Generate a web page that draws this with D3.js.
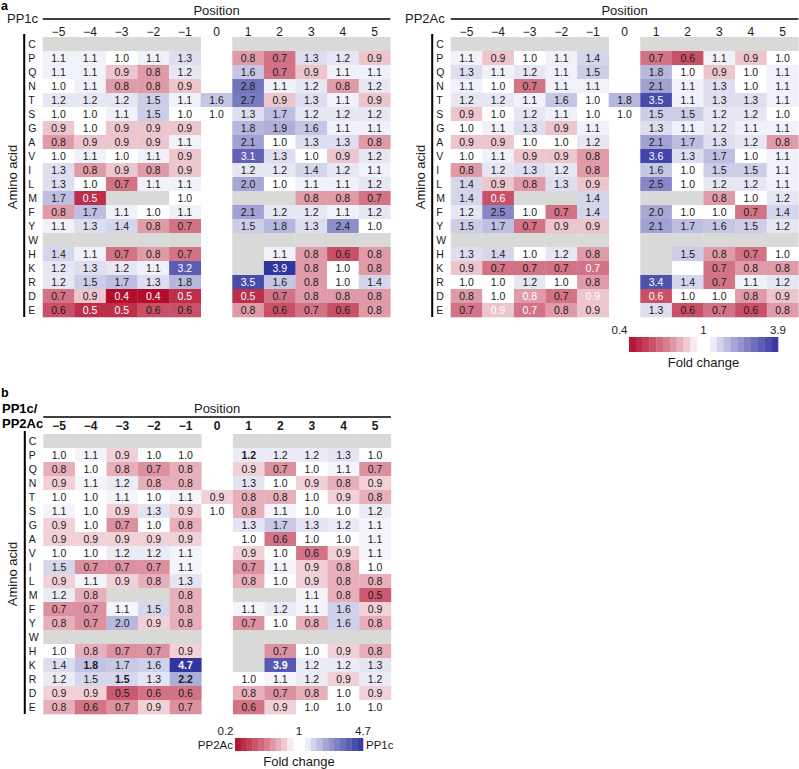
<!DOCTYPE html>
<html>
<head>
<meta charset="utf-8">
<script src="https://cdn.jsdelivr.net/npm/d3@7"></script>
<style>
  html, body { margin: 0; padding: 0; background: #fff; }
  svg { display: block; font-family: "Liberation Sans", Arial, Helvetica, sans-serif; }
</style>
</head>
<body>
<svg id="chart" width="799" height="769"></svg>
<script>
// ---------------- data ----------------
const aminoAcids = ["C","P","Q","N","T","S","G","A","V","I","L","M","F","Y","W","H","K","R","D","E"];
const positions = ["−5","−4","−3","−2","−1","0","1","2","3","4","5"];
const n = null;

// PP1c fold change (rows = aminoAcids, cols = positions); null = no data
const pp1cValues = [
  [n,n,n,n,n, n, n,n,n,n,n],
  [1.1,1.1,1.0,1.1,1.3, n, 0.8,0.7,1.3,1.2,0.9],
  [1.1,1.1,0.9,0.8,1.2, n, 1.6,0.7,0.9,1.1,1.1],
  [1.0,1.1,0.8,0.8,0.9, n, 2.8,1.1,1.2,0.8,1.2],
  [1.2,1.2,1.2,1.5,1.1, 1.6, 2.7,0.9,1.3,1.1,0.9],
  [1.0,1.0,1.1,1.5,1.0, 1.0, 1.3,1.7,1.2,1.2,1.2],
  [0.9,1.0,0.9,0.9,0.9, n, 1.8,1.9,1.6,1.1,1.1],
  [0.8,0.9,0.9,0.9,1.1, n, 2.1,1.0,1.3,1.3,0.8],
  [1.0,1.1,1.0,1.1,0.9, n, 3.1,1.3,1.0,0.9,1.2],
  [1.3,0.8,0.9,0.8,0.9, n, 1.2,1.2,1.4,1.2,1.1],
  [1.3,1.0,0.7,1.1,1.1, n, 2.0,1.0,1.1,1.1,1.2],
  [1.7,0.5,n,n,1.0, n, n,n,0.8,0.8,0.7],
  [0.8,1.7,1.1,1.0,1.1, n, 2.1,1.2,1.2,1.1,1.2],
  [1.1,1.3,1.4,0.8,0.7, n, 1.5,1.8,1.3,2.4,1.0],
  [n,n,n,n,n, n, n,n,n,n,n],
  [1.4,1.1,0.7,0.8,0.7, n, n,1.1,0.8,0.6,0.8],
  [1.2,1.3,1.2,1.1,3.2, n, n,3.9,0.8,1.0,0.8],
  [1.2,1.5,1.7,1.3,1.8, n, 3.5,1.6,0.8,1.0,1.4],
  [0.7,0.9,0.4,0.4,0.5, n, 0.5,0.7,0.8,0.8,0.8],
  [0.6,0.5,0.5,0.6,0.6, n, 0.8,0.6,0.7,0.6,0.8]
];

// PP2Ac fold change
const pp2acValues = [
  [n,n,n,n,n, n, n,n,n,n,n],
  [1.1,0.9,1.0,1.1,1.4, n, 0.7,0.6,1.1,0.9,1.0],
  [1.3,1.1,1.2,1.1,1.5, n, 1.8,1.0,0.9,1.0,1.1],
  [1.1,1.0,0.7,1.1,1.1, n, 2.1,1.1,1.3,1.0,1.1],
  [1.2,1.2,1.1,1.6,1.0, 1.8, 3.5,1.1,1.3,1.3,1.1],
  [0.9,1.0,1.2,1.1,1.0, 1.0, 1.5,1.5,1.2,1.2,1.0],
  [1.0,1.1,1.3,0.9,1.1, n, 1.3,1.1,1.2,1.1,1.1],
  [0.9,0.9,1.0,1.0,1.2, n, 2.1,1.7,1.3,1.2,0.8],
  [1.0,1.1,0.9,0.9,0.8, n, 3.6,1.3,1.7,1.0,1.1],
  [0.8,1.2,1.3,1.2,0.8, n, 1.6,1.0,1.5,1.5,1.1],
  [1.4,0.9,0.8,1.3,0.9, n, 2.5,1.0,1.2,1.2,1.1],
  [1.4,0.6,n,n,1.4, n, n,n,0.8,1.0,1.2],
  [1.2,2.5,1.0,0.7,1.4, n, 2.0,1.0,1.0,0.7,1.4],
  [1.5,1.7,0.7,0.9,0.9, n, 2.1,1.7,1.6,1.5,1.2],
  [n,n,n,n,n, n, n,n,n,n,n],
  [1.3,1.4,1.0,1.2,0.8, n, n,1.5,0.8,0.7,1.0],
  [0.9,0.7,0.7,0.7,0.7, n, n,1.0,0.7,0.8,0.8],
  [1.0,1.0,1.2,1.0,0.8, n, 3.4,1.4,0.7,1.1,1.2],
  [0.8,1.0,0.8,0.7,0.9, n, 0.6,1.0,1.0,0.8,0.9],
  [0.7,0.9,0.7,0.8,0.9, n, 1.3,0.6,0.7,0.6,0.8]
];

// PP1c / PP2Ac ratio
const ratioValues = [
  [n,n,n,n,n, n, n,n,n,n,n],
  [1.0,1.1,0.9,1.0,1.0, n, 1.2,1.2,1.2,1.3,1.0],
  [0.8,1.0,0.8,0.7,0.8, n, 0.9,0.7,1.0,1.1,0.7],
  [0.9,1.1,1.2,0.8,0.8, n, 1.3,1.0,0.9,0.8,0.9],
  [1.0,1.0,1.1,1.0,1.1, 0.9, 0.8,0.8,1.0,0.9,0.8],
  [1.1,1.0,0.9,1.3,0.9, 1.0, 0.8,1.1,1.0,1.0,1.2],
  [0.9,1.0,0.7,1.0,0.8, n, 1.3,1.7,1.3,1.2,1.1],
  [0.9,0.9,0.9,0.9,0.9, n, 1.0,0.6,1.0,1.0,1.1],
  [1.0,1.0,1.2,1.2,1.1, n, 0.9,1.0,0.6,0.9,1.1],
  [1.5,0.7,0.7,0.7,1.1, n, 0.7,1.1,0.9,0.8,1.0],
  [0.9,1.1,0.9,0.8,1.3, n, 0.8,1.0,0.9,0.8,0.8],
  [1.2,0.8,n,n,0.8, n, n,n,1.1,0.8,0.5],
  [0.7,0.7,1.1,1.5,0.8, n, 1.1,1.2,1.1,1.6,0.9],
  [0.8,0.7,2.0,0.9,0.8, n, 0.7,1.0,0.8,1.6,0.8],
  [n,n,n,n,n, n, n,n,n,n,n],
  [1.0,0.8,0.7,0.7,0.9, n, n,0.7,1.0,0.9,0.8],
  [1.4,1.8,1.7,1.6,4.7, n, n,3.9,1.2,1.2,1.3],
  [1.2,1.5,1.5,1.3,2.2, n, 1.0,1.1,1.2,0.9,1.2],
  [0.9,0.9,0.5,0.6,0.6, n, 0.8,0.7,0.8,1.0,0.9],
  [0.8,0.6,0.7,0.9,0.7, n, 0.6,0.9,1.0,1.0,1.0]
];

const legendATicks = ["0.4","1","3.9"];
const legendBTicks = ["0.2","1","4.7"];
const domainA = [0.4, 1, 3.9];
const domainB = [0.2, 1, 4.7];

// label styling lists ("row:position")
const pp1cWhiteLabels = ["M:−4","D:−3","D:−2","D:−1","E:−4","E:−3","V:1","K:−1","R:1","D:1","K:2"];
const pp2acWhiteLabels = ["M:−4","T:1","V:1","R:1","D:1","K:−1","D:−3","D:−1","E:−4","E:−3","K:2"];
const ratioWhiteLabels = ["K:−1","K:2"];
const ratioBoldLabels = ["P:1","K:−4","K:−1","K:2","R:−3","R:−1"];

// ---------------- drawing ----------------
const svg = d3.select("#chart");
const RED = "#b30d2d", BLUE = "#3234a0", GRAY = "#d9d9d7";
const CW = 31.6, CH = 14;
const GAMMA = 0.8;

function colorScale(dom) {
  const tRed = d3.scaleLinear().domain([1, dom[0]]).range([0, 1]).clamp(true);
  const tBlue = d3.scaleLinear().domain([1, dom[2]]).range([0, 1]).clamp(true);
  const iRed = d3.interpolateRgb("#ffffff", RED);
  const iBlue = d3.interpolateRgb("#ffffff", BLUE);
  return v => v < 1 ? iRed(Math.pow(tRed(v), GAMMA)) : iBlue(Math.pow(tBlue(v), GAMMA));
}

function heatmap(opt) {
  const g = svg.append("g");
  const x = d3.scaleBand().domain(positions).range([opt.x0, opt.x0 + CW * positions.length]);
  const y = d3.scaleBand().domain(aminoAcids).range([opt.y0, opt.y0 + CH * aminoAcids.length]);
  const color = colorScale(opt.domain);
  const cells = [];
  opt.values.forEach((row, ri) => row.forEach((v, ci) => {
    cells.push({ aa: aminoAcids[ri], pos: positions[ci], v });
  }));
  const white = new Set(opt.white || []);
  const bold = new Set(opt.bold || []);

  // cells (position 0 column has no grey background)
  g.selectAll("rect.cell").data(cells.filter(d => d.v !== null || d.pos !== "0"))
    .join("rect")
    .attr("x", d => x(d.pos)).attr("y", d => y(d.aa))
    .attr("width", x.bandwidth() + 0.3).attr("height", y.bandwidth() + 0.3)
    .attr("fill", d => d.v === null ? GRAY : color(d.v));

  g.selectAll("text.val").data(cells.filter(d => d.v !== null))
    .join("text")
    .attr("x", d => x(d.pos) + x.bandwidth() / 2)
    .attr("y", d => y(d.aa) + y.bandwidth() / 2 + 3.6)
    .attr("text-anchor", "middle")
    .attr("font-size", 10.5)
    .attr("font-weight", d => bold.has(d.aa + ":" + d.pos) ? "bold" : "normal")
    .attr("fill", d => white.has(d.aa + ":" + d.pos) ? "#ffffff" : "#1a1a1a")
    .text(d => d3.format(".1f")(d.v));

  // row labels
  g.selectAll("text.row").data(aminoAcids).join("text")
    .attr("x", opt.x0 - 14.5).attr("y", d => y(d) + y.bandwidth() / 2 + 3.8)
    .attr("font-size", 10.5).attr("fill", "#1a1a1a").text(d => d);

  // vertical axis line
  g.append("line")
    .attr("x1", opt.x0 - 18.5).attr("x2", opt.x0 - 18.5)
    .attr("y1", opt.y0 - 3).attr("y2", opt.y0 + CH * aminoAcids.length)
    .attr("stroke", "#000").attr("stroke-width", 2);

  // Amino acid label
  const cy = opt.y0 + CH * aminoAcids.length / 2;
  g.append("text").attr("transform", `translate(${opt.x0 - 26},${cy}) rotate(-90)`)
    .attr("text-anchor", "middle").attr("font-size", 13).attr("fill", "#1a1a1a")
    .text("Amino acid");

  // header
  g.append("line")
    .attr("x1", opt.x0).attr("x2", opt.x0 + CW * positions.length)
    .attr("y1", opt.lineY).attr("y2", opt.lineY)
    .attr("stroke", "#000").attr("stroke-width", 1.6);
  g.append("text").attr("x", x("0") + x.bandwidth() / 2).attr("y", opt.lineY - 4.5)
    .attr("text-anchor", "middle").attr("font-size", 13).attr("fill", "#1a1a1a").text("Position");
  g.selectAll("text.tick").data(positions).join("text")
    .attr("x", d => x(d) + x.bandwidth() / 2).attr("y", opt.tickY)
    .attr("text-anchor", "middle").attr("font-size", 12)
    .attr("font-weight", opt.boldTicks ? "bold" : "normal")
    .attr("fill", "#1a1a1a").text(d => d);
}

function legend(opt) {
  const g = svg.append("g");
  const color = colorScale(opt.domain);
  const nb = 10;
  const bw = opt.w / nb;
  const redVals = d3.range(nb).map(i => opt.domain[0] + (1 - opt.domain[0]) * (i + 0.5) / nb);
  const blueVals = d3.range(nb).map(i => 1 + (opt.domain[2] - 1) * (i + 0.5) / nb);
  g.selectAll("rect.r").data(redVals).join("rect")
    .attr("x", (d, i) => opt.x + i * bw).attr("y", opt.y)
    .attr("width", bw + 0.3).attr("height", opt.h).attr("fill", d => color(d));
  const bx = opt.x + opt.w + opt.gap;
  g.selectAll("rect.b").data(blueVals).join("rect")
    .attr("x", (d, i) => bx + i * bw).attr("y", opt.y)
    .attr("width", bw + 0.3).attr("height", opt.h).attr("fill", d => color(d));
  const ty = opt.y - 3.5;
  g.append("text").attr("x", opt.x - 1.5).attr("y", ty).attr("text-anchor", "end")
    .attr("font-size", 11.5).attr("fill", "#1a1a1a").text(opt.ticks[0]);
  g.append("text").attr("x", opt.x + opt.w + opt.gap / 2).attr("y", ty).attr("text-anchor", "middle")
    .attr("font-size", 11.5).attr("fill", "#1a1a1a").text(opt.ticks[1]);
  g.append("text").attr("x", bx + opt.w).attr("y", ty).attr("text-anchor", "middle")
    .attr("font-size", 11.5).attr("fill", "#1a1a1a").text(opt.ticks[2]);
  g.append("text").attr("x", opt.x + opt.w + opt.gap / 2).attr("y", opt.y + opt.h + 15)
    .attr("text-anchor", "middle").attr("font-size", 13).attr("fill", "#1a1a1a").text("Fold change");
  if (opt.sideLabels) {
    g.append("text").attr("x", opt.x - 2).attr("y", opt.y + opt.h / 2 + 4)
      .attr("text-anchor", "end").attr("font-size", 11.5).attr("fill", "#1a1a1a").text(opt.sideLabels[0]);
    g.append("text").attr("x", bx + opt.w + 3).attr("y", opt.y + opt.h / 2 + 4)
      .attr("text-anchor", "start").attr("font-size", 11.5).attr("fill", "#1a1a1a").text(opt.sideLabels[1]);
  }
}

// panel labels
svg.append("text").attr("x", 1).attr("y", 10).attr("font-size", 12.5).attr("font-weight", "bold").text("a");
svg.append("text").attr("x", 1).attr("y", 397).attr("font-size", 12.5).attr("font-weight", "bold").text("b");
svg.append("text").attr("x", 7).attr("y", 23).attr("font-size", 13).attr("fill", "#1a1a1a").text("PP1c");
svg.append("text").attr("x", 405).attr("y", 23).attr("font-size", 13).attr("fill", "#1a1a1a").text("PP2Ac");
svg.append("text").attr("x", 2).attr("y", 413).attr("font-size", 13).attr("font-weight", "bold").text("PP1c/");
svg.append("text").attr("x", 2).attr("y", 428).attr("font-size", 13).attr("font-weight", "bold").text("PP2Ac");

heatmap({ values: pp1cValues, x0: 42.7, y0: 37, lineY: 19, tickY: 35.5, domain: domainA, white: pp1cWhiteLabels });
heatmap({ values: pp2acValues, x0: 450.7, y0: 37, lineY: 19, tickY: 35.5, domain: domainA, white: pp2acWhiteLabels });
heatmap({ values: ratioValues, x0: 43.3, y0: 434, lineY: 417, tickY: 429.5, domain: domainB,
          white: ratioWhiteLabels, bold: ratioBoldLabels, boldTicks: true });

legend({ x: 629, y: 337, w: 68, h: 15, gap: 13, domain: domainA, ticks: legendATicks });
legend({ x: 235, y: 738, w: 58, h: 13, gap: 12, domain: domainB, ticks: legendBTicks, sideLabels: ["PP2Ac", "PP1c"] });
</script>
</body>
</html>
